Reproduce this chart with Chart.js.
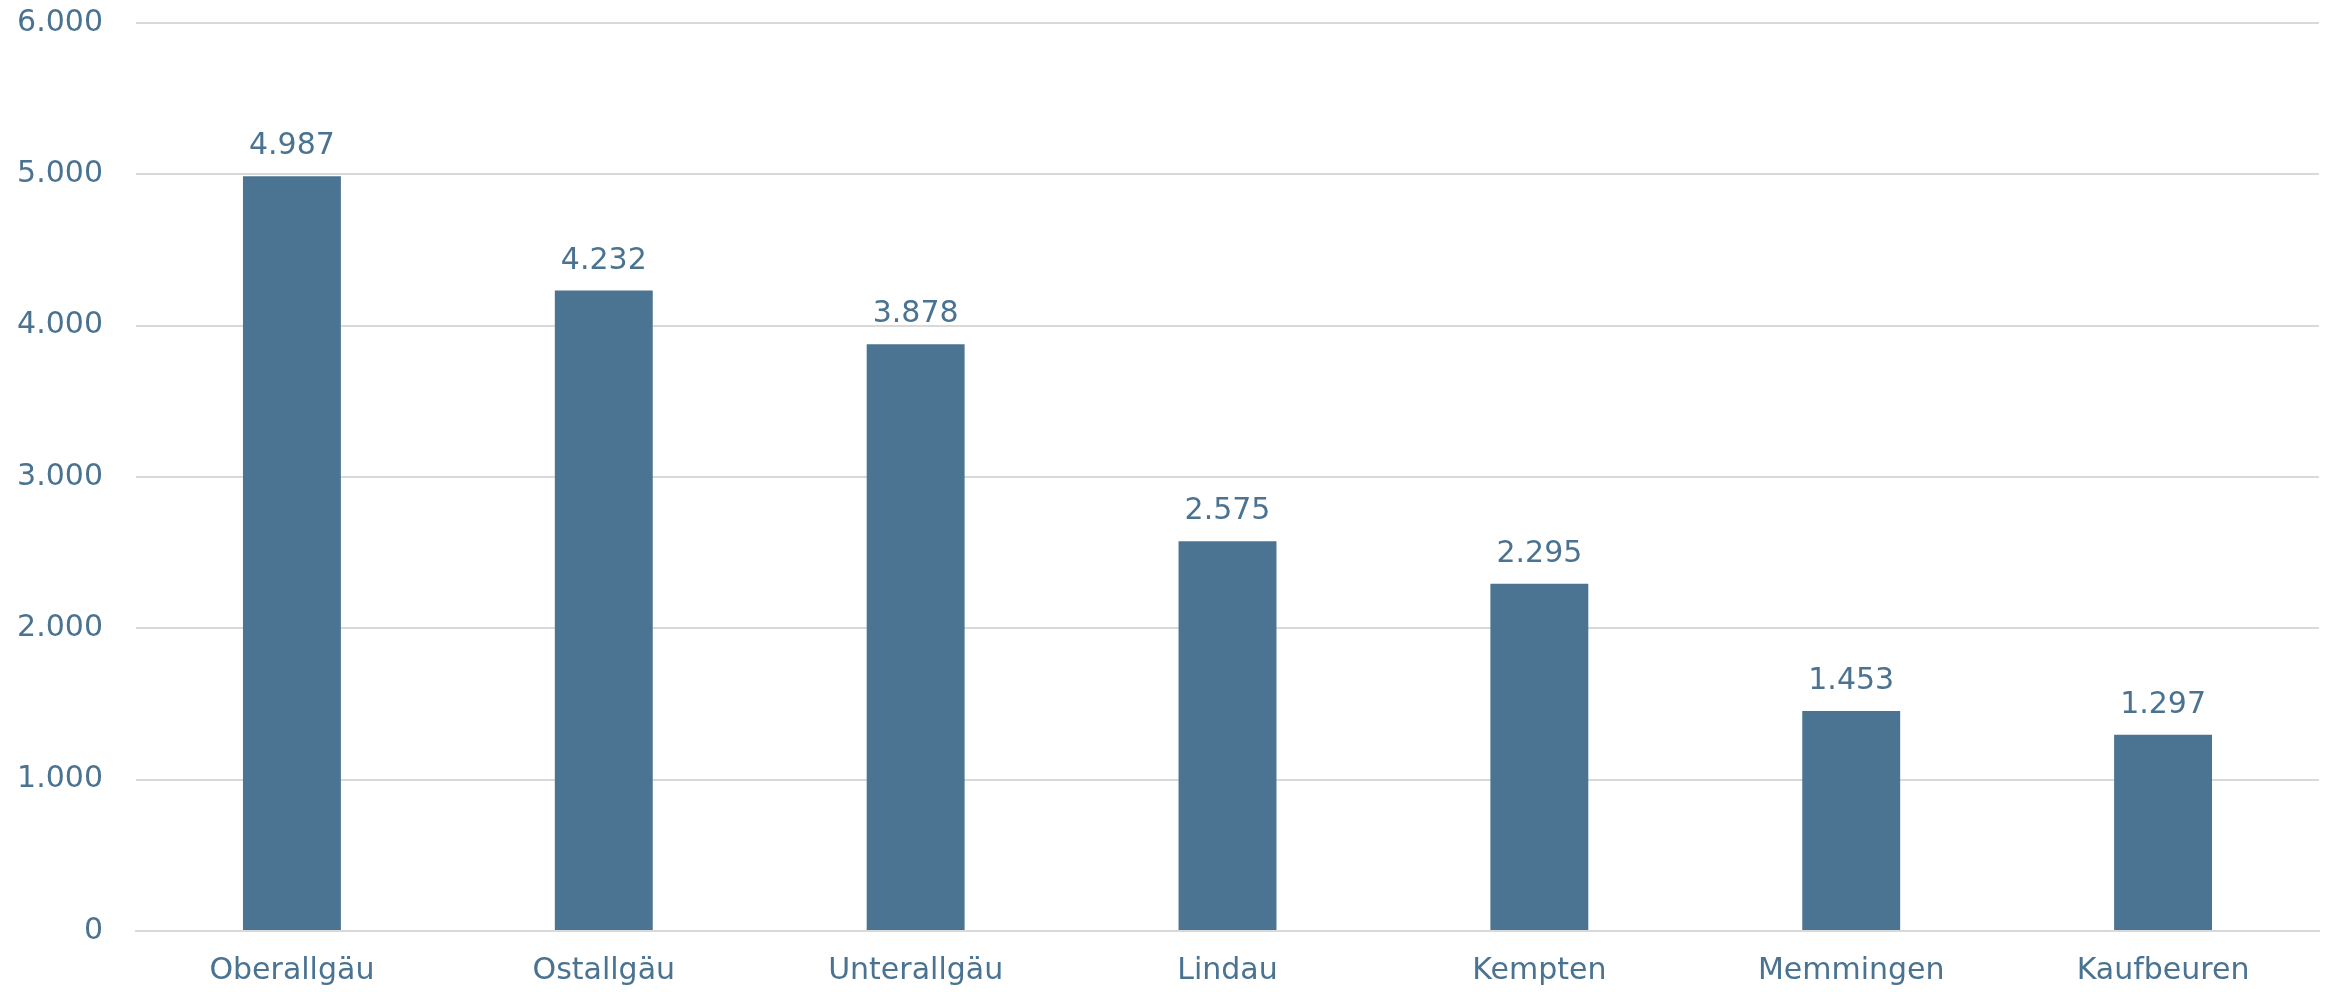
<!DOCTYPE html>
<html lang="de">
<head>
    <meta charset="UTF-8">
    <title>Allgäu</title>
    <script src="https://cdn.jsdelivr.net/npm/chart.js"></script>
    <style>
        html, body {
            margin: 0;
            padding: 0;
            background: #ffffff;
        }
        .chart-container {
            width: 2334px;
            height: 992px;
        }
    </style>
</head>
<body>
<div class="chart-container"><canvas id="chart"></canvas></div>

<script>
    const regions = ['Oberallgäu', 'Ostallgäu', 'Unterallgäu', 'Lindau', 'Kempten', 'Memmingen', 'Kaufbeuren'];
    const counts = [4987, 4232, 3878, 2575, 2295, 1453, 1297];
    const yTicks = [0, 1000, 2000, 3000, 4000, 5000, 6000];

    const textColor = '#4a7391';
    const barColor = '#4a7491';
    const fontFamily = '"DejaVu Sans", Verdana, sans-serif';

    const fmt = v => v.toLocaleString('de-DE');

    // values above each bar
    const valueLabels = {
        id: 'valueLabels',
        afterDatasetsDraw(chart) {
            const ctx = chart.ctx;
            const meta = chart.getDatasetMeta(0);
            ctx.save();
            ctx.font = '30px ' + fontFamily;
            ctx.fillStyle = textColor;
            ctx.textAlign = 'center';
            ctx.textBaseline = 'alphabetic';
            meta.data.forEach((bar, i) => {
                ctx.fillText(fmt(counts[i]), bar.x, bar.y - 22);
            });
            ctx.restore();
        }
    };

    new Chart(document.getElementById('chart'), {
        type: 'bar',
        data: {
            labels: regions,
            datasets: [{
                data: counts,
                backgroundColor: barColor,
                barPercentage: 0.314,
                categoryPercentage: 1.0
            }]
        },
        options: {
            responsive: true,
            maintainAspectRatio: false,
            animation: false,
            layout: {
                padding: {top: 23, right: 15, bottom: 0, left: 0}
            },
            plugins: {
                legend: {display: false},
                tooltip: {enabled: false}
            },
            scales: {
                x: {
                    grid: {display: false},
                    border: {display: true, color: '#d9d9d9', width: 2},
                    ticks: {
                        color: textColor,
                        font: {family: fontFamily, size: 30},
                        padding: 14,
                        maxRotation: 0
                    },
                    afterFit(scale) {
                        scale.height = 61;
                    }
                },
                y: {
                    min: 0,
                    max: 6000,
                    afterBuildTicks(scale) {
                        scale.ticks = yTicks.map(v => ({value: v}));
                    },
                    grid: {
                        color: '#d9d9d9',
                        lineWidth: 2,
                        drawTicks: false
                    },
                    border: {display: false},
                    ticks: {
                        color: textColor,
                        font: {family: fontFamily, size: 30},
                        padding: 33,
                        callback: v => fmt(v)
                    },
                    afterFit(scale) {
                        scale.width = 136;
                        scale.paddingTop = 0;
                        scale.paddingBottom = 0;
                    }
                }
            }
        },
        plugins: [valueLabels]
    });
</script>
</body>
</html>
